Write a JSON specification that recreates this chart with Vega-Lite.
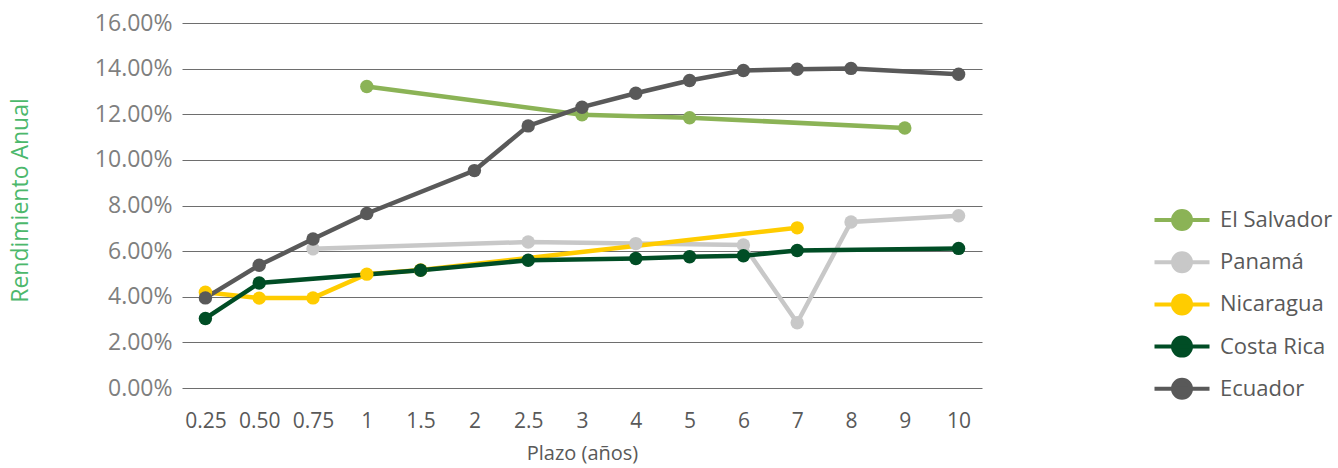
{
  "$schema": "https://vega.github.io/schema/vega-lite/v6.json",
  "autosize": {"type": "none"},
  "padding": {"left": 182, "top": 23, "right": 356, "bottom": 80},
  "width": 800,
  "height": 365,
  "background": "white",
  "config": {
    "font": "Open Sans",
    "view": {"stroke": null}
  },
  "data": {
    "values": [
      {"pais": "El Salvador", "plazo": "1", "anios": 1, "rend": 0.1322},
      {"pais": "El Salvador", "plazo": "3", "anios": 3, "rend": 0.1198},
      {"pais": "El Salvador", "plazo": "5", "anios": 5, "rend": 0.1185},
      {"pais": "El Salvador", "plazo": "9", "anios": 9, "rend": 0.1140},
      {"pais": "Panamá", "plazo": "0.75", "anios": 0.75, "rend": 0.0610},
      {"pais": "Panamá", "plazo": "2.5", "anios": 2.5, "rend": 0.0640},
      {"pais": "Panamá", "plazo": "4", "anios": 4, "rend": 0.0633},
      {"pais": "Panamá", "plazo": "6", "anios": 6, "rend": 0.0627},
      {"pais": "Panamá", "plazo": "7", "anios": 7, "rend": 0.0286},
      {"pais": "Panamá", "plazo": "8", "anios": 8, "rend": 0.0728},
      {"pais": "Panamá", "plazo": "10", "anios": 10, "rend": 0.0755},
      {"pais": "Nicaragua", "plazo": "0.25", "anios": 0.25, "rend": 0.0420},
      {"pais": "Nicaragua", "plazo": "0.50", "anios": 0.5, "rend": 0.0394},
      {"pais": "Nicaragua", "plazo": "0.75", "anios": 0.75, "rend": 0.0395},
      {"pais": "Nicaragua", "plazo": "1", "anios": 1, "rend": 0.0499},
      {"pais": "Nicaragua", "plazo": "1.5", "anios": 1.5, "rend": 0.0517},
      {"pais": "Nicaragua", "plazo": "7", "anios": 7, "rend": 0.0702},
      {"pais": "Costa Rica", "plazo": "0.25", "anios": 0.25, "rend": 0.0305},
      {"pais": "Costa Rica", "plazo": "0.50", "anios": 0.5, "rend": 0.0460},
      {"pais": "Costa Rica", "plazo": "1.5", "anios": 1.5, "rend": 0.0516},
      {"pais": "Costa Rica", "plazo": "2.5", "anios": 2.5, "rend": 0.0560},
      {"pais": "Costa Rica", "plazo": "4", "anios": 4, "rend": 0.0568},
      {"pais": "Costa Rica", "plazo": "5", "anios": 5, "rend": 0.0575},
      {"pais": "Costa Rica", "plazo": "6", "anios": 6, "rend": 0.0580},
      {"pais": "Costa Rica", "plazo": "7", "anios": 7, "rend": 0.0603},
      {"pais": "Costa Rica", "plazo": "10", "anios": 10, "rend": 0.0612},
      {"pais": "Ecuador", "plazo": "0.25", "anios": 0.25, "rend": 0.0395},
      {"pais": "Ecuador", "plazo": "0.50", "anios": 0.5, "rend": 0.0538},
      {"pais": "Ecuador", "plazo": "0.75", "anios": 0.75, "rend": 0.0653},
      {"pais": "Ecuador", "plazo": "1", "anios": 1, "rend": 0.0765},
      {"pais": "Ecuador", "plazo": "2", "anios": 2, "rend": 0.0953},
      {"pais": "Ecuador", "plazo": "2.5", "anios": 2.5, "rend": 0.1149},
      {"pais": "Ecuador", "plazo": "3", "anios": 3, "rend": 0.1231},
      {"pais": "Ecuador", "plazo": "4", "anios": 4, "rend": 0.1292},
      {"pais": "Ecuador", "plazo": "5", "anios": 5, "rend": 0.1348},
      {"pais": "Ecuador", "plazo": "6", "anios": 6, "rend": 0.1392},
      {"pais": "Ecuador", "plazo": "7", "anios": 7, "rend": 0.1397},
      {"pais": "Ecuador", "plazo": "8", "anios": 8, "rend": 0.1401},
      {"pais": "Ecuador", "plazo": "10", "anios": 10, "rend": 0.1375}
    ]
  },
  "mark": {
    "type": "line",
    "strokeWidth": 4.5,
    "point": {"filled": true, "size": 180, "opacity": 1}
  },
  "encoding": {
    "x": {
      "field": "plazo",
      "type": "ordinal",
      "sort": ["0.25", "0.50", "0.75", "1", "1.5", "2", "2.5", "3", "4", "5", "6", "7", "8", "9", "10"],
      "scale": {"domain": ["0.25", "0.50", "0.75", "1", "1.5", "2", "2.5", "3", "4", "5", "6", "7", "8", "9", "10"], "type": "point", "padding": 0.435},
      "axis": {
        "title": "Plazo (años)",
        "titleFontSize": 20,
        "titleFontWeight": "normal",
        "titleColor": "#595959",
        "titlePadding": 12,
        "labelAngle": 0,
        "labelFontSize": 21,
        "labelColor": "#595959",
        "labelPadding": 22,
        "ticks": false,
        "domain": false,
        "grid": false
      }
    },
    "y": {
      "field": "rend",
      "type": "quantitative",
      "scale": {"domain": [0, 0.16], "nice": false},
      "axis": {
        "title": "Rendimiento Anual",
        "titleFontSize": 23,
        "titleFontWeight": "normal",
        "titleColor": "#4cb86c",
        "titleX": -150,
        "titleY": 177,
        "titleAngle": 270,
        "titleBaseline": "bottom",
        "titleAlign": "center",
        "format": ".2%",
        "values": [0, 0.02, 0.04, 0.06, 0.08, 0.1, 0.12, 0.14, 0.16],
        "labelFontSize": 23,
        "labelColor": "#7f7f7f",
        "labelPadding": 10,
        "ticks": false,
        "domain": false,
        "grid": true,
        "gridColor": "#6e6e6e",
        "gridWidth": 1
      }
    },
    "color": {
      "field": "pais",
      "type": "nominal",
      "scale": {
        "domain": ["El Salvador", "Panamá", "Nicaragua", "Costa Rica", "Ecuador"],
        "range": ["#8bb356", "#c8c8c8", "#ffcc00", "#004d25", "#595959"]
      },
      "legend": {
        "title": null,
        "orient": "none",
        "legendX": 988,
        "legendY": 185,
        "padding": 0,
        "symbolType": "M-2.75,0L2.75,0M-0.9,0A0.9,0.9,0,1,1,0.9,0A0.9,0.9,0,1,1,-0.9,0Z",
        "symbolSize": 400,
        "symbolStrokeWidth": 4,
        "labelOffset": 26,
        "labelFontSize": 22,
        "labelColor": "#595959",
        "rowPadding": 8.2,
        "encode": {
          "symbols": {"update": {"fill": {"scale": "color", "field": "value"}, "fillOpacity": {"value": 1}, "opacity": {"value": 1}}}
        }
      }
    },
    "order": {"field": "anios", "type": "quantitative"}
  }
}
